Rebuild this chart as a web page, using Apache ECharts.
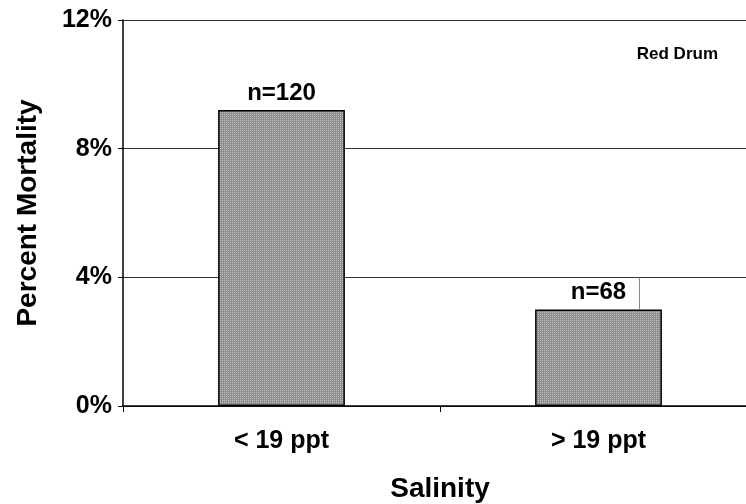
<!DOCTYPE html>
<html>
<head>
<meta charset="utf-8">
<script src="https://cdn.jsdelivr.net/npm/echarts@6/dist/echarts.min.js"></script>
<style>
  html, body { margin: 0; padding: 0; background: #fff; }
  #chart { width: 746px; height: 504px; }
</style>
</head>
<body>
<div id="chart"></div>
<script>
// Percent mortality of red drum by salinity class
const categories = ['< 19 ppt', '> 19 ppt'];
const mortality = [9.2, 3.0];          // percent
const sampleSizes = [120, 68];
const yTicks = [0, 4, 8, 12];

// Fine stippled grey fill for the bars
function stipple() {
  const c = document.createElement('canvas');
  c.width = 2; c.height = 2;
  const g = c.getContext('2d');
  g.fillStyle = '#8e8e8e'; g.fillRect(0, 0, 2, 2);
  g.fillStyle = '#c2c2c2'; g.fillRect(0, 0, 1, 1);
  return c;
}

const font = 'Liberation Sans, Arial, sans-serif';
const chart = echarts.init(document.getElementById('chart'), null, { renderer: 'canvas' });

chart.setOption({
  animation: false,
  backgroundColor: '#fff',
  title: {
    text: 'Red Drum',
    right: 23, top: 41,
    textStyle: { fontFamily: font, fontSize: 17, fontWeight: 'bold', color: '#000' }
  },
  grid: { left: 123, top: 20, width: 634, height: 386, outerBoundsMode: 'none', containLabel: false },
  xAxis: {
    type: 'category',
    data: categories,
    name: 'Salinity',
    nameLocation: 'middle',
    nameGap: 69,
    nameTextStyle: { fontFamily: font, fontSize: 28, fontWeight: 'bold', color: '#000' },
    axisLine: { lineStyle: { color: '#000', width: 1.5 } },
    axisTick: { show: true, length: 6, lineStyle: { color: '#000' } },
    axisLabel: { fontFamily: font, fontSize: 25, fontWeight: 'bold', color: '#000', margin: 23 }
  },
  yAxis: {
    type: 'value',
    min: yTicks[0], max: yTicks[yTicks.length - 1], interval: 4,
    name: 'Percent Mortality',
    nameLocation: 'middle',
    nameGap: 81,
    nameTextStyle: { fontFamily: font, fontSize: 28, fontWeight: 'bold', color: '#000' },
    axisLine: { show: true, lineStyle: { color: '#000', width: 1.5 } },
    axisTick: { show: true, length: 5, lineStyle: { color: '#000' } },
    axisLabel: { formatter: '{value}%', fontFamily: font, fontSize: 25, fontWeight: 'bold', color: '#000', margin: 11 },
    splitLine: { show: true, lineStyle: { color: '#333', width: 1 } }
  },
  series: [{
    type: 'bar',
    data: mortality,
    barWidth: '40%',
    itemStyle: { color: { image: stipple(), repeat: 'repeat' }, borderColor: '#000', borderWidth: 1.5 },
    label: {
      show: true,
      position: 'top',
      distance: 5,
      formatter: p => 'n=' + sampleSizes[p.dataIndex],
      fontFamily: font, fontSize: 24, fontWeight: 'bold', color: '#000'
    }
  }]
});

// Thin edge of the label box beside the second bar
const edgeTop = chart.convertToPixel({ yAxisIndex: 0 }, 4);
const edgeBottom = chart.convertToPixel({ yAxisIndex: 0 }, mortality[1]);
const edgeX = chart.convertToPixel({ xAxisIndex: 0 }, categories[1]) + 41;
chart.setOption({
  graphic: [{
    type: 'line',
    shape: { x1: edgeX, y1: edgeTop, x2: edgeX, y2: edgeBottom },
    style: { stroke: '#888', lineWidth: 1 },
    z: 10
  }]
});
</script>
</body>
</html>
